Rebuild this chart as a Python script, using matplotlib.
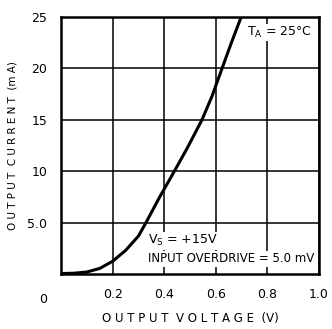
import numpy as np
import matplotlib.pyplot as plt

plt.rcParams['font.family'] = ['Liberation Sans Narrow', 'DejaVu Sans']

# curve
volts = [0.0, 0.05, 0.1, 0.15, 0.2, 0.25, 0.3, 0.329, 0.38, 0.439, 0.49, 0.546, 0.585, 0.621, 0.66, 0.698]
current = [0.05, 0.08, 0.2, 0.55, 1.25, 2.3, 3.7, 5.0, 7.4, 10.0, 12.3, 15.0, 17.3, 19.8, 22.5, 25.0]

x_ticks = [0.2, 0.4, 0.6, 0.8, 1.0]
x_labels = ['0.2', '0.4', '0.6', '0.8', '1.0']
y_ticks = [5, 10, 15, 20, 25]
y_labels = ['5.0', '10', '15', '20', '25']

fig = plt.figure(figsize=(3.32, 3.29), dpi=100)
ax = fig.add_axes([0.184, 0.167, 0.777, 0.781])

ax.plot(volts, current, color='black', lw=2.2, solid_capstyle='butt')

ax.set_xlim(0, 1.0)
ax.set_ylim(0, 25)
ax.set_xticks(x_ticks)
ax.set_xticklabels(x_labels)
ax.set_yticks(y_ticks)
ax.set_yticklabels(y_labels)
ax.tick_params(length=0, labelsize=9, pad=10)
ax.grid(True, color='black', lw=1.1)
for s in ax.spines.values():
    s.set_linewidth(1.8)

ax.text(-0.07, -0.075, '0', transform=ax.transAxes, ha='center', va='top', fontsize=9)

ax.set_xlabel('O U T P U T  V O L T A G E  (V)', fontsize=8.5, labelpad=8)
ax.set_ylabel('O U T P U T  C U R R E N T  (m A)', fontsize=7.5, labelpad=7)

ax.text(0.97, 0.94, r'T$_\mathregular{A}$ = 25°C', transform=ax.transAxes,
        ha='right', va='center', fontsize=9,
        bbox=dict(facecolor='white', edgecolor='none', pad=1))
ax.text(0.335, 0.13, r'V$_\mathregular{S}$ = +15V', transform=ax.transAxes,
        ha='left', va='center', fontsize=9,
        bbox=dict(facecolor='white', edgecolor='none', pad=1))
ax.text(0.335, 0.06, 'INPUT OVERDRIVE = 5.0 mV', transform=ax.transAxes,
        ha='left', va='center', fontsize=8.5,
        bbox=dict(facecolor='white', edgecolor='none', pad=1))

fig.savefig('out.png', dpi=100)
